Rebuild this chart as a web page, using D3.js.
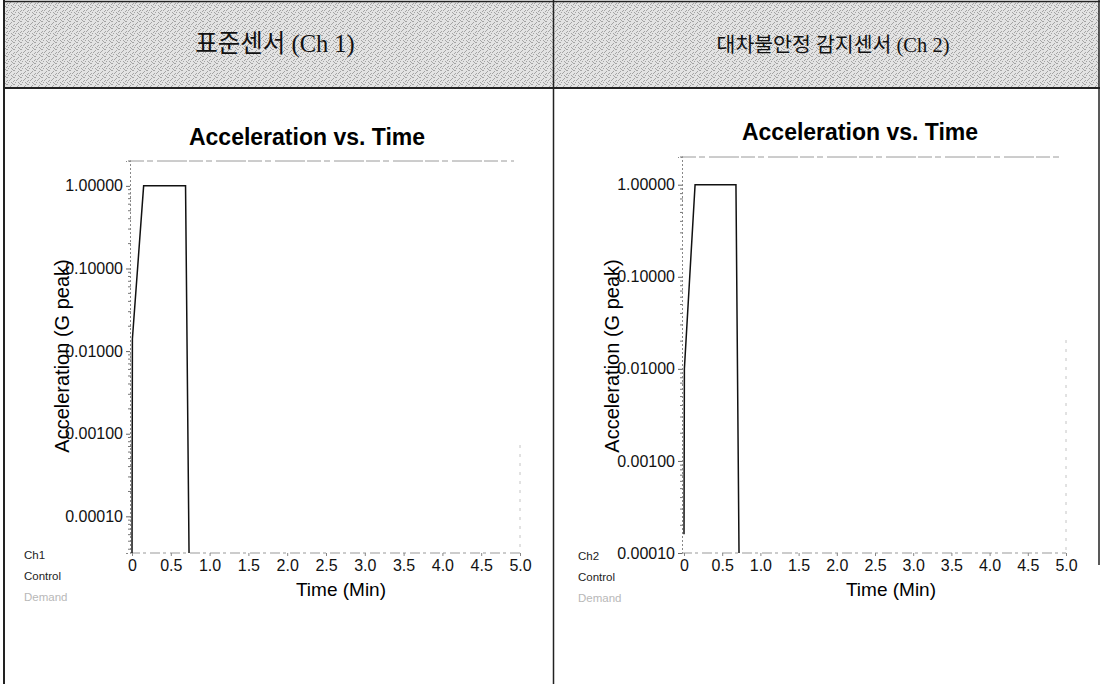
<!DOCTYPE html>
<html>
<head>
<meta charset="utf-8">
<script src="https://cdn.jsdelivr.net/npm/d3@7"></script>
<style>
    body { margin: 0; background: #fff; }
    svg { display: block; }
</style>
</head>
<body>
<div id="chart-ctn"></div>
<script>
// Chart data
let headers = ["표준센서 (Ch 1)", "대차불안정 감지센서 (Ch 2)"];
let chartTitle = "Acceleration vs. Time";
let xLabel = "Time (Min)";
let yLabel = "Acceleration (G peak)";
let timeTicks = [0, 0.5, 1.0, 1.5, 2.0, 2.5, 3.0, 3.5, 4.0, 4.5, 5.0];
let accelTicks = [1, 0.1, 0.01, 0.001, 0.0001];
let legend1 = ["Ch1", "Control", "Demand"];
let legend2 = ["Ch2", "Control", "Demand"];

// Ch 1 trace
let ch1Time = [0, 0.005, 0.15, 0.69, 0.735];
let ch1Accel = [3.6e-5, 0.014, 1, 1, 3.6e-5];

// Ch 2 trace
let ch2Time = [0, 0.005, 0.145, 0.68, 0.72];
let ch2Accel = [1.6e-4, 0.01, 1, 1, 1e-4];

let W = 1101;
let H = 684;

// panel layout (pixels)
let panels = [
    {
        header: headers[0], hx: 275, hSize: 24.5, legend: legend1,
        time: ch1Time, accel: ch1Accel,
        x0: 132, x1: 520, axisX: 130, top: 161, bottom: 553,
        yDomain: [3.6e-5, 2], titleX: 307, titleY: 137, frameFrom: 445,
        yLabelX: 62, xLabelX: 341, legendX: 24, legendY: 555,
    },
    {
        header: headers[1], hx: 833, hSize: 20.5, legend: legend2,
        time: ch2Time, accel: ch2Accel,
        x0: 684, x1: 1066, axisX: 682, top: 157, bottom: 553,
        yDomain: [1e-4, 2], titleX: 860, titleY: 132, frameFrom: 340,
        yLabelX: 612, xLabelX: 891, legendX: 578, legendY: 556,
    },
];

let svg = d3
    .select("#chart-ctn")
    .append("svg")
    .attr("width", W)
    .attr("height", H);

// dithered grey for the header row
let pat = svg
    .append("defs")
    .append("pattern")
    .attr("id", "dither")
    .attr("width", 7)
    .attr("height", 7)
    .attr("patternUnits", "userSpaceOnUse");
pat.append("rect").attr("width", 7).attr("height", 7).attr("fill", "#e3e3e3");
[[0, 0], [4, 1], [2, 3], [6, 4], [1, 5], [5, 6], [3, 2], [6, 0], [0, 3], [4, 5]].forEach(function (p) {
    pat.append("rect")
        .attr("x", p[0])
        .attr("y", p[1])
        .attr("width", 1)
        .attr("height", 1)
        .attr("fill", "#a4a4a4");
});

svg.append("rect")
    .attr("x", 4)
    .attr("y", 1)
    .attr("width", 1095)
    .attr("height", 87)
    .attr("fill", "url(#dither)");

// table lines
let table = svg.append("g").attr("stroke", "#222").attr("fill", "none");
table.append("line").attr("x1", 3).attr("x2", 1100).attr("y1", 1.5).attr("y2", 1.5).attr("stroke-width", 1.5);
table.append("line").attr("x1", 3).attr("x2", 1100).attr("y1", 88).attr("y2", 88).attr("stroke-width", 2);
table.append("line").attr("x1", 4).attr("x2", 4).attr("y1", 0).attr("y2", H).attr("stroke-width", 2);
table.append("line").attr("x1", 553.5).attr("x2", 553.5).attr("y1", 0).attr("y2", H).attr("stroke-width", 1.5);
table.append("line").attr("x1", 1099).attr("x2", 1099).attr("y1", 0).attr("y2", 565).attr("stroke-width", 1.5);

function drawPanel(p) {
    let g = svg.append("g");

    // header text
    g.append("text")
        .attr("x", p.hx)
        .attr("y", 52)
        .attr("text-anchor", "middle")
        .style("font-family", "'Liberation Serif', 'Noto Sans CJK KR', serif")
        .style("font-size", p.hSize + "px")
        .attr("fill", "#111")
        .text(p.header);

    let x = d3.scaleLinear().domain([0, 5]).range([p.x0, p.x1]);
    let y = d3.scaleLog().domain(p.yDomain).range([p.bottom, p.top]);

    // faint frame
    let frame = g.append("g").attr("stroke", "#9a9a9a").attr("fill", "none").attr("stroke-width", 1);
    frame.append("line")
        .attr("x1", p.axisX).attr("x2", p.x1 - 6)
        .attr("y1", p.top).attr("y2", p.top)
        .attr("stroke-dasharray", "14 3 6 4 30 2");
    frame.append("line")
        .attr("x1", p.x1).attr("x2", p.x1)
        .attr("y1", p.frameFrom).attr("y2", p.bottom)
        .attr("stroke", "#c4c4c4")
        .attr("stroke-dasharray", "3 6");

    // minor log ticks
    let minor = [];
    for (let e = -5; e <= 0; e++) {
        for (let m = 2; m <= 9; m++) {
            let v = m * Math.pow(10, e);
            if (v >= p.yDomain[0] && v <= p.yDomain[1]) minor.push(v);
        }
    }
    g.append("g")
        .selectAll("line")
        .data(minor)
        .join("line")
        .attr("x1", p.axisX - 2)
        .attr("x2", p.axisX + 1)
        .attr("y1", (d) => y(d))
        .attr("y2", (d) => y(d))
        .attr("stroke", "#777");

    // y axis
    let yAxis = d3
        .axisLeft(y)
        .tickValues(accelTicks)
        .tickFormat(d3.format(".5f"))
        .tickSize(4)
        .tickPadding(3);
    let ya = g.append("g")
        .attr("transform", `translate(${p.axisX},0)`)
        .call(yAxis);
    ya.select(".domain").attr("stroke", "#888").attr("stroke-dasharray", "2 2");
    ya.selectAll(".tick line").attr("stroke", "#666");
    ya.selectAll(".tick text")
        .attr("fill", "#111")
        .style("font-family", "'Liberation Sans', Arial, sans-serif")
        .style("font-size", "16px");

    // x axis
    let xAxis = d3
        .axisBottom(x)
        .tickValues(timeTicks)
        .tickFormat((d) => (d === 0 ? "0" : d3.format(".1f")(d)))
        .tickSize(3)
        .tickPadding(4);
    let xa = g.append("g")
        .attr("transform", `translate(0,${p.bottom})`)
        .call(xAxis);
    xa.select(".domain")
        .attr("d", `M${p.axisX},0H${p.x1}`)
        .attr("stroke", "#999")
        .attr("stroke-dasharray", "10 3 3 4");
    xa.selectAll(".tick line").attr("stroke", "#888");
    xa.selectAll(".tick text")
        .attr("fill", "#111")
        .style("font-family", "'Liberation Sans', Arial, sans-serif")
        .style("font-size", "16px");

    // trace
    let pts = p.time.map((t, i) => [t, p.accel[i]]);
    g.append("path")
        .datum(pts)
        .attr("fill", "none")
        .attr("stroke", "#111")
        .attr("stroke-width", 1.5)
        .attr(
            "d",
            d3
                .line()
                .x((d) => x(d[0]))
                .y((d) => y(d[1]))
        );

    // title
    g.append("text")
        .attr("x", p.titleX)
        .attr("y", p.titleY + 8)
        .attr("text-anchor", "middle")
        .style("font-family", "'Liberation Sans', Arial, sans-serif")
        .style("font-size", "23px")
        .style("font-weight", "bold")
        .text(chartTitle);

    // axis labels
    g.append("text")
        .attr("x", p.xLabelX)
        .attr("y", 596)
        .attr("text-anchor", "middle")
        .style("font-family", "'Liberation Sans', Arial, sans-serif")
        .style("font-size", "19px")
        .text(xLabel);

    g.append("text")
        .attr("transform", `translate(${p.yLabelX + 7},356) rotate(-90)`)
        .attr("text-anchor", "middle")
        .style("font-family", "'Liberation Sans', Arial, sans-serif")
        .style("font-size", "20px")
        .text(yLabel);

    // legend labels
    g.append("g")
        .selectAll("text")
        .data(p.legend)
        .join("text")
        .attr("x", p.legendX)
        .attr("y", (d, i) => p.legendY + 4 + i * 21)
        .attr("fill", (d, i) => (i === 2 ? "#b8b8b8" : "#222"))
        .style("font-family", "'Liberation Sans', Arial, sans-serif")
        .style("font-size", "11.5px")
        .text((d) => d);
}

panels.forEach(drawPanel);
</script>
</body>
</html>
